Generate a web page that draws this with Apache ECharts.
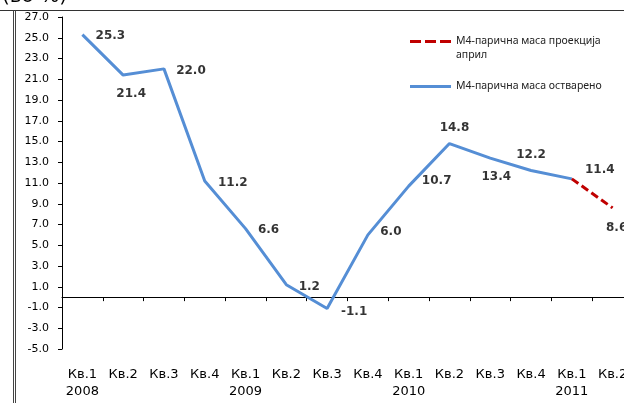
<!DOCTYPE html>
<html>
<head>
<meta charset="utf-8">
<script src="https://cdn.jsdelivr.net/npm/echarts@6/dist/echarts.min.js"></script>
<style>html,body{margin:0;padding:0;background:#fff;overflow:hidden;width:624px;height:403px}#c{width:640px;height:403px}</style>
</head>
<body>
<div id="c"></div>
<script>
const quarters = ['Кв.1','Кв.2','Кв.3','Кв.4','Кв.1','Кв.2','Кв.3','Кв.4','Кв.1','Кв.2','Кв.3','Кв.4','Кв.1','Кв.2'];
const years = ['2008','','','','2009','','','','2010','','','','2011',''];
const actual = [25.3, 21.4, 22.0, 11.2, 6.6, 1.2, -1.1, 6.0, 10.7, 14.8, 13.4, 12.2, 11.4, null];
const projection = [null, null, null, null, null, null, null, null, null, null, null, null, 11.4, 8.6];
const yMin = -5, yMax = 27, yStep = 2;
const seriesNames = ['М4-парична маса проекција', 'М4-парична маса остварено'];
const unitTitle = '(во %)';

// label placement (offset of label centre from its point), kept apart from the data
const actualLabelOffsets = [[28,1],[8,19],[27,2],[28,2],[23,1],[23,2],[27,3],[23,-3],[28,-5],[5,-16],[6,19],[0,-16],[28,-9],[0,0]];
const projLabelOffsets = [[0,0],[0,0],[0,0],[0,0],[0,0],[0,0],[0,0],[0,0],[0,0],[0,0],[0,0],[0,0],[0,0],[4,20]];

const chart = echarts.init(document.getElementById('c'), null, {renderer: 'canvas'});
const FONT = 'DejaVu Sans';
const labelBase = {show: true, position: 'inside', fontFamily: FONT, fontWeight: 'bold', fontSize: 12, color: '#000',
  textBorderWidth: 0, formatter: p => (typeof p.value === 'number' ? p.value.toFixed(1) : '')};

const actualLabels = actual.map((v, i) => v === null ? null : {value: v, label: {offset: actualLabelOffsets[i]}});
const projLabels = projection.map((v, i) => (v === null || i !== projection.length - 1) ? null :
  {value: v, label: {offset: projLabelOffsets[i]}});

const legendText = {fontFamily: 'Noto Sans', fontSize: 10.5, lineHeight: 13, color: '#222'};
const dashIcon = 'path://M0,0h11v3H0z M15,0h11v3H15z M30,0h11v3H30z';
const solidIcon = 'path://M0,0h41v3H0z';

chart.setOption({
  animation: false,
  grid: {left: 62, top: 17, width: 571, height: 332, containLabel: false},
  legend: [
    {left: 410, top: 35, itemWidth: 41, itemHeight: 3, padding: 0, selectedMode: false,
     data: [{name: seriesNames[0], icon: dashIcon}], textStyle: legendText},
    {left: 410, top: 80, itemWidth: 41, itemHeight: 3, padding: 0, selectedMode: false,
     data: [{name: seriesNames[1], icon: solidIcon}], textStyle: legendText}
  ],
  graphic: [
    {type: 'line', shape: {x1: 0, y1: 10.5, x2: 640, y2: 10.5}, style: {stroke: '#333', lineWidth: 1}, silent: true},
    {type: 'line', shape: {x1: 13.5, y1: 10.5, x2: 13.5, y2: 403}, style: {stroke: '#444', lineWidth: 1}, silent: true},
    {type: 'line', shape: {x1: 15.5, y1: 10.5, x2: 15.5, y2: 403}, style: {stroke: '#444', lineWidth: 1}, silent: true},
    {type: 'text', left: 2, top: -13, style: {text: unitTitle, fontFamily: FONT, fontSize: 20, fill: '#000'}, silent: true},
    {type: 'text', left: 456, top: 50, style: {text: 'април', fontFamily: 'Noto Sans', fontSize: 10.5, fill: '#222'}, silent: true}
  ],
  xAxis: [
    {type: 'category', data: quarters, boundaryGap: true,
     axisLine: {onZero: true, lineStyle: {color: '#000', width: 1}},
     axisTick: {show: true, length: 4, lineStyle: {color: '#000'}},
     axisLabel: {show: false}, splitLine: {show: false}},
    {type: 'category', position: 'bottom', data: quarters.map((q, i) => years[i] ? q + '\n' + years[i] : q), boundaryGap: true,
     axisLine: {show: false, onZero: false}, axisTick: {show: false},
     axisLabel: {show: true, interval: 0, margin: 17, fontFamily: FONT, fontSize: 13, lineHeight: 17, color: '#000'},
     splitLine: {show: false}}
  ],
  yAxis: {
    type: 'value', min: yMin, max: yMax, interval: yStep,
    axisLine: {show: true, lineStyle: {color: '#000', width: 1}},
    axisTick: {show: true, length: 4, lineStyle: {color: '#000'}},
    axisLabel: {margin: 13, fontFamily: FONT, fontSize: 11, color: '#000', formatter: v => v.toFixed(1)},
    splitLine: {show: false}
  },
  series: [
    {name: seriesNames[1], type: 'line', xAxisIndex: 0, data: actual, symbol: 'none',
     lineStyle: {color: '#558ED5', width: 3}, itemStyle: {color: '#558ED5'}, z: 2},
    {name: seriesNames[0], type: 'line', xAxisIndex: 0, data: projection, symbol: 'none',
     lineStyle: {color: '#C00000', width: 3, type: [8, 4]}, itemStyle: {color: '#C00000'}, z: 3},
    {name: 'labels-actual', type: 'scatter', xAxisIndex: 0, data: actualLabels, symbolSize: 1,
     itemStyle: {color: 'rgba(0,0,0,0)'}, label: labelBase, z: 4, silent: true},
    {name: 'labels-projection', type: 'scatter', xAxisIndex: 0, data: projLabels, symbolSize: 1,
     itemStyle: {color: 'rgba(0,0,0,0)'}, label: labelBase, z: 4, silent: true}
  ]
});
</script>
</body>
</html>
